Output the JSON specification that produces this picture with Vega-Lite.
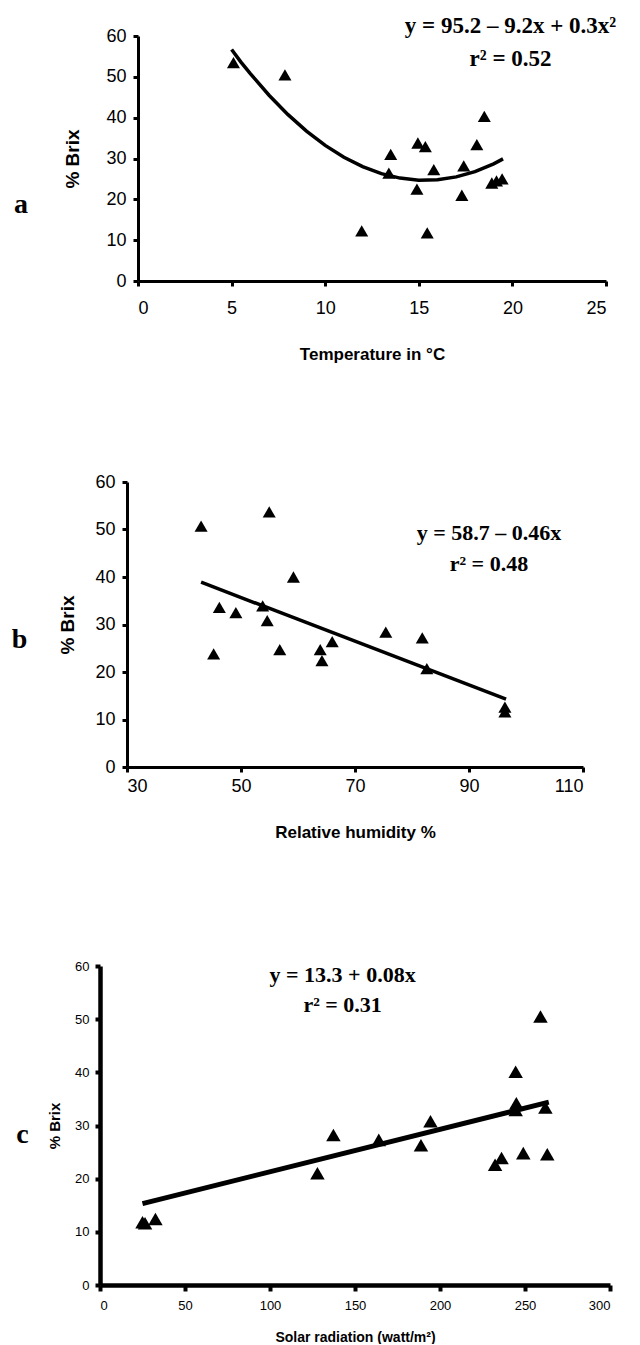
{
  "$schema": "https://vega.github.io/schema/vega-lite/v6.json",
  "background": "white",
  "padding": {"left": 11, "top": 15, "right": 5, "bottom": 0},
  "config": {
    "view": {"stroke": null},
    "axis": {"grid": false, "domainColor": "black", "tickColor": "black", "labelColor": "black", "titleColor": "black", "labelFont": "Liberation Sans", "titleFont": "Liberation Sans", "titleFontWeight": "bold", "labelFontWeight": "normal"},
    "title": {"orient": "left", "angle": 0, "align": "left", "baseline": "middle", "frame": "group", "anchor": "middle", "offset": 0, "font": "Liberation Serif", "fontSize": 28, "fontWeight": "bold", "color": "black"}
  },
  "datasets": {
    "none": [],
    "a_pts": [
      {"x": 5.1, "y": 53.5}, {"x": 7.85, "y": 50.5}, {"x": 11.95, "y": 12.3}, {"x": 13.5, "y": 31.0},
      {"x": 13.4, "y": 26.4}, {"x": 14.95, "y": 33.8}, {"x": 15.35, "y": 32.9}, {"x": 14.9, "y": 22.5},
      {"x": 15.45, "y": 11.8}, {"x": 15.8, "y": 27.3}, {"x": 17.4, "y": 28.2}, {"x": 17.3, "y": 21.0},
      {"x": 18.1, "y": 33.4}, {"x": 18.5, "y": 40.3}, {"x": 18.9, "y": 24.0}, {"x": 19.15, "y": 24.5},
      {"x": 19.45, "y": 25.0}
    ],
    "a_fit": [
      {"x": 5, "y": 56.7}, {"x": 5.5, "y": 53.6}, {"x": 6, "y": 50.8}, {"x": 7, "y": 45.5},
      {"x": 8, "y": 40.8}, {"x": 9, "y": 36.7}, {"x": 10, "y": 33.2}, {"x": 11, "y": 30.3},
      {"x": 12, "y": 28.0}, {"x": 13, "y": 26.3}, {"x": 14, "y": 25.2}, {"x": 15, "y": 24.7},
      {"x": 16, "y": 24.8}, {"x": 17, "y": 25.5}, {"x": 18, "y": 26.8}, {"x": 19, "y": 28.7},
      {"x": 19.5, "y": 29.9}
    ],
    "a_eq": [
      {"x": 19.9, "y": 60.7, "label": "y = 95.2 – 9.2x + 0.3x²"},
      {"x": 19.9, "y": 52.6, "label": "r² = 0.52"}
    ],
    "b_pts": [
      {"x": 43.0, "y": 50.7}, {"x": 46.2, "y": 33.6}, {"x": 49.1, "y": 32.5}, {"x": 45.2, "y": 23.8},
      {"x": 54.95, "y": 53.7}, {"x": 53.8, "y": 33.9}, {"x": 54.6, "y": 30.8}, {"x": 56.8, "y": 24.7},
      {"x": 59.2, "y": 40.0}, {"x": 63.9, "y": 24.7}, {"x": 64.2, "y": 22.4}, {"x": 66.0, "y": 26.4},
      {"x": 75.4, "y": 28.4}, {"x": 81.8, "y": 27.2}, {"x": 82.6, "y": 20.7}, {"x": 96.3, "y": 12.6},
      {"x": 96.3, "y": 11.6}
    ],
    "b_fit": [{"x": 43.0, "y": 38.9}, {"x": 96.5, "y": 14.3}],
    "b_eq": [
      {"x": 93.5, "y": 47.7, "label": "y = 58.7 – 0.46x"},
      {"x": 93.5, "y": 41.3, "label": "r² = 0.48"}
    ],
    "c_pts": [
      {"x": 25.0, "y": 11.8}, {"x": 26.5, "y": 11.6}, {"x": 32.6, "y": 12.4}, {"x": 127.9, "y": 21.0},
      {"x": 137.3, "y": 28.2}, {"x": 164.0, "y": 27.3}, {"x": 188.8, "y": 26.3}, {"x": 194.4, "y": 30.8},
      {"x": 232.4, "y": 22.6}, {"x": 236.2, "y": 23.9}, {"x": 244.5, "y": 40.1}, {"x": 244.9, "y": 34.2},
      {"x": 244.5, "y": 32.9}, {"x": 249.0, "y": 24.8}, {"x": 259.1, "y": 50.5}, {"x": 262.0, "y": 33.4},
      {"x": 263.1, "y": 24.6}
    ],
    "c_fit": [{"x": 25, "y": 15.3}, {"x": 264, "y": 34.4}],
    "c_eq": [
      {"x": 142.7, "y": 56.9, "label": "y = 13.3 + 0.08x"},
      {"x": 142.7, "y": 51.3, "label": "r² = 0.31"}
    ]
  },
  "spacing": 111,
  "vconcat": [
    {
      "spacing": 0,
      "hconcat": [
        {
          "width": 24,
          "height": 245,
          "title": {"text": "a", "dy": 32},
          "data": {"name": "none"},
          "mark": {"type": "point"},
          "encoding": {}
        },
        {
          "width": 468,
          "height": 245,
          "layer": [
            {
              "data": {"name": "a_pts"},
              "mark": {"type": "point", "shape": "triangle-up", "filled": true, "color": "black", "opacity": 1, "size": 170},
              "encoding": {
                "x": {"field": "x", "type": "quantitative", "scale": {"domain": [0, 25], "nice": false},
                  "axis": {"title": "Temperature in °C", "values": [0, 5, 10, 15, 20, 25], "labelFontSize": 18, "titleFontSize": 17, "domainWidth": 3, "tickWidth": 3, "tickSize": 5, "labelPadding": 13, "titlePadding": 29}},
                "y": {"field": "y", "type": "quantitative", "scale": {"domain": [0, 60], "nice": false},
                  "axis": {"title": "% Brix", "values": [0, 10, 20, 30, 40, 50, 60], "labelFontSize": 18, "titleFontSize": 19, "domainWidth": 3, "tickWidth": 3, "tickSize": 5, "labelPadding": 7, "titlePadding": 23}}
              }
            },
            {
              "data": {"name": "a_fit"},
              "mark": {"type": "line", "color": "black", "strokeWidth": 3.5},
              "encoding": {"x": {"field": "x", "type": "quantitative"}, "y": {"field": "y", "type": "quantitative"}}
            },
            {
              "data": {"name": "a_eq"},
              "mark": {"type": "text", "font": "Liberation Serif", "fontSize": 23, "fontWeight": "bold", "color": "black", "align": "center", "baseline": "alphabetic"},
              "encoding": {"x": {"field": "x", "type": "quantitative"}, "y": {"field": "y", "type": "quantitative"}, "text": {"field": "label"}}
            }
          ]
        }
      ]
    },
    {
      "spacing": 120,
      "vconcat": [
        {
          "spacing": 0,
          "hconcat": [
            {
              "width": 19,
              "height": 285,
              "title": {"text": "b", "dy": 1},
              "data": {"name": "none"},
              "mark": {"type": "point"},
              "encoding": {}
            },
            {
              "width": 456,
              "height": 285,
              "layer": [
                {
                  "data": {"name": "b_pts"},
                  "mark": {"type": "point", "shape": "triangle-up", "filled": true, "color": "black", "opacity": 1, "size": 170},
                  "encoding": {
                    "x": {"field": "x", "type": "quantitative", "scale": {"domain": [30, 110], "nice": false},
                      "axis": {"title": "Relative humidity %", "values": [30, 50, 70, 90, 110], "labelFontSize": 18, "titleFontSize": 17, "domainWidth": 3, "tickWidth": 3, "tickSize": 5, "labelPadding": 5, "titlePadding": 29}},
                    "y": {"field": "y", "type": "quantitative", "scale": {"domain": [0, 60], "nice": false},
                      "axis": {"title": "% Brix", "values": [0, 10, 20, 30, 40, 50, 60], "labelFontSize": 18, "titleFontSize": 19, "domainWidth": 3, "tickWidth": 3, "tickSize": 5, "labelPadding": 7, "titlePadding": 17}}
                  }
                },
                {
                  "data": {"name": "b_fit"},
                  "mark": {"type": "line", "color": "black", "strokeWidth": 3.5},
                  "encoding": {"x": {"field": "x", "type": "quantitative"}, "y": {"field": "y", "type": "quantitative"}}
                },
                {
                  "data": {"name": "b_eq"},
                  "mark": {"type": "text", "font": "Liberation Serif", "fontSize": 22, "fontWeight": "bold", "color": "black", "align": "center", "baseline": "alphabetic"},
                  "encoding": {"x": {"field": "x", "type": "quantitative"}, "y": {"field": "y", "type": "quantitative"}, "text": {"field": "label"}}
                }
              ]
            }
          ]
        },
        {
          "spacing": 0,
          "hconcat": [
            {
              "width": 7.5,
              "height": 319,
              "title": {"text": "c", "dy": -5},
              "data": {"name": "none"},
              "mark": {"type": "point"},
              "encoding": {}
            },
            {
              "width": 510,
              "height": 319,
              "layer": [
                {
                  "data": {"name": "c_pts"},
                  "mark": {"type": "point", "shape": "triangle-up", "filled": true, "color": "black", "opacity": 1, "size": 210},
                  "encoding": {
                    "x": {"field": "x", "type": "quantitative", "scale": {"domain": [0, 300], "nice": false},
                      "axis": {"title": "Solar radiation (watt/m²)", "values": [0, 50, 100, 150, 200, 250, 300], "labelFontSize": 13, "titleFontSize": 14, "domainWidth": 4.5, "tickWidth": 4, "tickSize": 6, "labelPadding": 8, "titlePadding": 18}},
                    "y": {"field": "y", "type": "quantitative", "scale": {"domain": [0, 60], "nice": false},
                      "axis": {"title": "% Brix", "values": [0, 10, 20, 30, 40, 50, 60], "labelFontSize": 13, "titleFontSize": 15, "domainWidth": 4.5, "tickWidth": 4, "tickSize": 5, "labelPadding": 6, "titlePadding": 12}}
                  }
                },
                {
                  "data": {"name": "c_fit"},
                  "mark": {"type": "line", "color": "black", "strokeWidth": 5},
                  "encoding": {"x": {"field": "x", "type": "quantitative"}, "y": {"field": "y", "type": "quantitative"}}
                },
                {
                  "data": {"name": "c_eq"},
                  "mark": {"type": "text", "font": "Liberation Serif", "fontSize": 22, "fontWeight": "bold", "color": "black", "align": "center", "baseline": "alphabetic"},
                  "encoding": {"x": {"field": "x", "type": "quantitative"}, "y": {"field": "y", "type": "quantitative"}, "text": {"field": "label"}}
                }
              ]
            }
          ]
        }
      ]
    }
  ]
}
